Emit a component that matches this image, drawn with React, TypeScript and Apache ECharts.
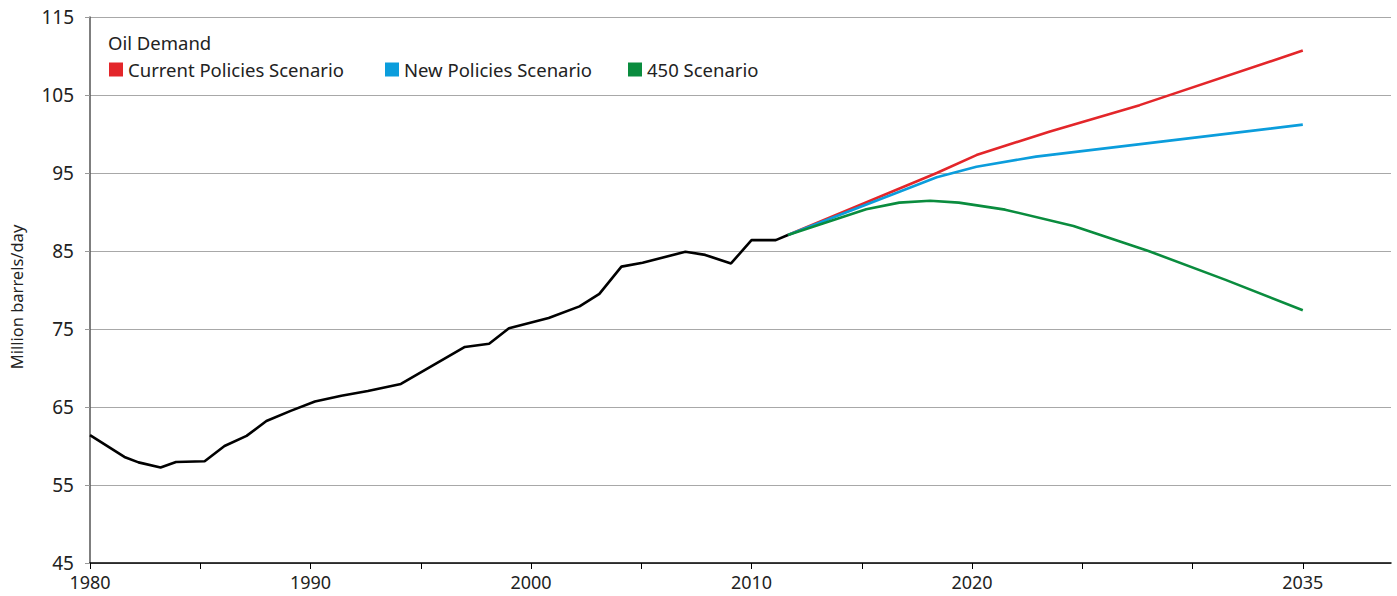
import React, { useEffect, useRef } from "react";
import * as echarts from "echarts";

const histYears = [1980, 1981.56, 1982.2, 1983.2, 1983.9, 1985.2, 1986.1, 1987.1, 1988.0, 1989.1, 1990.2, 1991.4, 1992.6, 1994.1, 1997.0, 1998.1, 1999.0, 2000.8, 2002.2, 2003.1, 2004.1, 2005.06, 2007.0, 2007.9, 2009.07, 2010.0, 2011.1, 2011.65];
const histValues = [61.4, 58.6, 57.9, 57.25, 57.95, 58.05, 60.0, 61.3, 63.2, 64.5, 65.7, 66.45, 67.05, 67.95, 72.7, 73.1, 75.1, 76.4, 77.9, 79.5, 83.0, 83.5, 84.9, 84.5, 83.4, 86.4, 86.4, 87.05];

const cpsYears = [2011.65, 2018.4, 2020.2, 2023.5, 2027.6, 2035];
const cpsValues = [87.05, 95.0, 97.3, 100.3, 103.7, 110.7];

const npsYears = [2011.65, 2018.4, 2020.2, 2022.9, 2035];
const npsValues = [87.05, 94.45, 95.8, 97.1, 101.2];

const s450Years = [2011.65, 2015.2, 2016.7, 2018.1, 2019.4, 2021.5, 2024.6, 2028.0, 2031.5, 2035];
const s450Values = [87.05, 90.35, 91.2, 91.45, 91.2, 90.3, 88.2, 85.0, 81.3, 77.4];

const xTickValues = [1980, 1985, 1990, 1995, 2000, 2005, 2010, 2015, 2020, 2025, 2030, 2035];
const xLabelValues = [1980, 1990, 2000, 2010, 2020, 2035];

const seriesNames = ["Current Policies Scenario", "New Policies Scenario", "450 Scenario"];
const seriesColors = ["#e3262a", "#0b9ddc", "#0a8c3e"];

const pairs = (xs: number[], ys: number[]) => xs.map((x, i) => [x, ys[i]]);

const FONT = "Noto Sans";

export default function App() {
  const ref = useRef<HTMLDivElement>(null);
  useEffect(() => {
    document.body.style.margin = "0";
    const chart = echarts.init(ref.current!, null, { renderer: "svg" });
    const legendLefts = [109, 385, 628];
    chart.setOption({
      animation: false,
      textStyle: { fontFamily: FONT },
      grid: { left: 90, right: 6, top: 17, bottom: 33, containLabel: false, outerBoundsMode: "none" },
      graphic: [
        {
          type: "text",
          left: 108,
          top: 33,
          style: { text: "Oil Demand", fontFamily: FONT, fontSize: 18.5, fill: "#222" },
        },
        {
          type: "text",
          x: 16,
          y: 297,
          rotation: Math.PI / 2,
          style: {
            text: "Million barrels/day",
            fontFamily: FONT,
            fontSize: 16.5,
            fill: "#222",
            align: "center",
            verticalAlign: "middle",
          },
        },
      ],
      legend: seriesNames.map((n, i) => ({
        data: [n],
        left: legendLefts[i],
        top: 60,
        icon: "rect",
        itemWidth: 14,
        itemHeight: 14,
        padding: 0,
        textStyle: { fontFamily: FONT, fontSize: 18.5, color: "#222", padding: [0, 0, 0, 0] },
      })),
      xAxis: {
        type: "value",
        min: 1980,
        max: 2039,
        interval: 5,
        axisLine: { show: true, lineStyle: { color: "#000", width: 1.5 } },
        axisTick: { show: true, customValues: xTickValues, length: 6, lineStyle: { color: "#000" } },
        axisLabel: {
          customValues: xLabelValues,
          formatter: (v: number) => String(v),
          fontFamily: FONT,
          fontSize: 18,
          color: "#222",
          margin: 10,
        },
        splitLine: { show: false },
      },
      yAxis: {
        type: "value",
        min: 45,
        max: 115,
        interval: 10,
        axisLine: { show: true, lineStyle: { color: "#555", width: 1.5 } },
        axisTick: { show: true, length: 5, lineStyle: { color: "#999" } },
        axisLabel: { fontFamily: FONT, fontSize: 19, color: "#222", margin: 16 },
        splitLine: { show: true, lineStyle: { color: "#a8a8a8", width: 1 } },
      },
      series: [
        {
          name: "History",
          type: "line",
          data: pairs(histYears, histValues),
          symbol: "none",
          lineStyle: { color: "#000", width: 2.6 },
          itemStyle: { color: "#000" },
          z: 5,
        },
        {
          name: seriesNames[0],
          type: "line",
          data: pairs(cpsYears, cpsValues),
          symbol: "none",
          lineStyle: { color: seriesColors[0], width: 2.6 },
          itemStyle: { color: seriesColors[0] },
          z: 2,
        },
        {
          name: seriesNames[1],
          type: "line",
          data: pairs(npsYears, npsValues),
          symbol: "none",
          lineStyle: { color: seriesColors[1], width: 2.6 },
          itemStyle: { color: seriesColors[1] },
          z: 3,
        },
        {
          name: seriesNames[2],
          type: "line",
          data: pairs(s450Years, s450Values),
          symbol: "none",
          lineStyle: { color: seriesColors[2], width: 2.6 },
          itemStyle: { color: seriesColors[2] },
          z: 4,
        },
      ],
    });
    return () => chart.dispose();
  }, []);
  return <div ref={ref} style={{ width: 1397, height: 596 }} />;
}
